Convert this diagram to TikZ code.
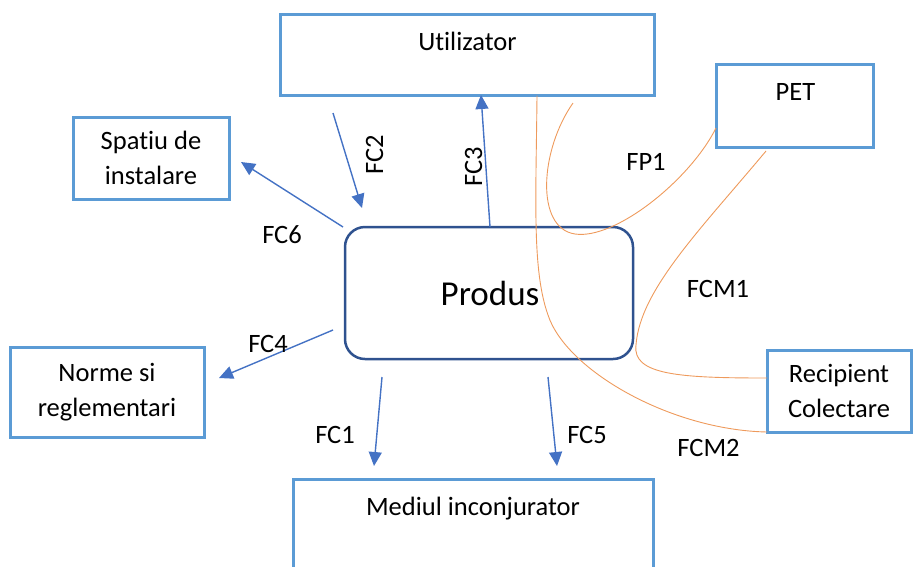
\documentclass[tikz,border=0pt]{standalone}
\usepackage{fontspec}
\setmainfont{Carlito}[Ligatures=NoCommon]
\usetikzlibrary{arrows.meta}
\definecolor{boxblue}{HTML}{5B9BD5}
\definecolor{arrowblue}{HTML}{4472C4}
\definecolor{prodblue}{HTML}{2F528F}
\definecolor{flow}{HTML}{EE9A5C}

\begin{document}
\begin{tikzpicture}[x=1pt,y=-1pt,
  box/.style={draw=boxblue, line width=3pt, inner sep=0pt, align=center,
              font=\fontsize{26.5}{35}\selectfont},
  txt/.style={font=\fontsize{26.5}{35}\selectfont, inner sep=0pt, anchor=base},
  fc/.style={draw=arrowblue, line width=1.4pt, -{Triangle[length=14pt,width=13pt]}},
  flowline/.style={draw=flow, line width=0.9pt}
]
\useasboundingbox (0,0) rectangle (913,566);
\clip (0,0) rectangle (913,566);

% boxes
\node[box, minimum width=374pt, minimum height=81pt] (util) at (467,54.5) {};
\node[box, minimum width=157pt, minimum height=83pt] (pet) at (794.5,105.5) {};
\node[box, minimum width=144pt, minimum height=82pt] (recip) at (839,391) {Recipient\\Colectare};
\node[box, minimum width=156pt, minimum height=82pt] (spatiu) at (151,158) {Spatiu de\\instalare};
\node[box, minimum width=194pt, minimum height=90pt] (norme) at (107,392) {Norme si\\reglementari};
\node[box, minimum width=360pt, minimum height=122pt] (mediul) at (473,540) {};
\node[draw=prodblue, line width=2.5pt, rounded corners=20pt, minimum width=288pt,
      minimum height=132pt, inner sep=0pt] (produs) at (489,293) {};

% top-aligned box texts
\node[txt] (utilT) at (467.5,50) {Utilizator};
\node[txt] (petT) at (795.5,100.7) {PET};
\node[txt] (mediulT) at (473,515.6) {Mediul inconjurator};
\node[txt, font=\fontsize{35}{40}\selectfont] (produsT) at (490,305) {Produs};

% arrow end points
\coordinate (fc2s) at (333,113);  \coordinate (fc2e) at (362,208);
\coordinate (fc3s) at (490,227);  \coordinate (fc3e) at (481,95);
\coordinate (fc6s) at (343,227);  \coordinate (fc6e) at (241,162);
\coordinate (fc4s) at (333,330);  \coordinate (fc4e) at (219,378);
\coordinate (fc1s) at (382,377);  \coordinate (fc1e) at (374,466);
\coordinate (fc5s) at (548,377);  \coordinate (fc5e) at (557,466);

\draw[fc] (fc2s) -- (fc2e);
\draw[fc] (fc3s) -- (fc3e);
\draw[fc] (fc6s) -- (fc6e);
\draw[fc] (fc4s) -- (fc4e);
\draw[fc] (fc1s) -- (fc1e);
\draw[fc] (fc5s) -- (fc5e);

% arrow labels
\node[txt, rotate=90] (fc2l) at (383,155) {FC2};
\node[txt, rotate=90] (fc3l) at (482,167) {FC3};
\node[txt] (fc6l) at (282,243) {FC6};
\node[txt] (fc4l) at (268,352) {FC4};
\node[txt] (fc1l) at (335,443) {FC1};
\node[txt] (fc5l) at (587,443) {FC5};

% material flows
\coordinate (fcm2s) at (537,95.5);
\coordinate (fcm2e) at (767,432);
\draw[flowline] (fcm2s) .. controls (536,200) and (532,270) .. (548,315)
                        .. controls (566,370) and (670,430) .. (fcm2e);

\coordinate (fp1s) at (573,103);
\coordinate (fp1e) at (716,128);
\draw[flowline] (fp1s) .. controls (540,150) and (535,228) .. (575,234)
                       .. controls (615,240) and (690,180) .. (fp1e);

\coordinate (fcm1s) at (766,151);
\coordinate (fcm1e) at (767,378);
\draw[flowline] (fcm1s) .. controls (700,230) and (640,290) .. (636,345)
                        .. controls (632,375) and (680,378) .. (fcm1e);

\node[txt] (fp1l) at (646,170) {FP1};
\node[txt] (fcm1l) at (718,297) {FCM1};
\node[txt] (fcm2l) at (708.5,456) {FCM2};
\end{tikzpicture}
\end{document}
